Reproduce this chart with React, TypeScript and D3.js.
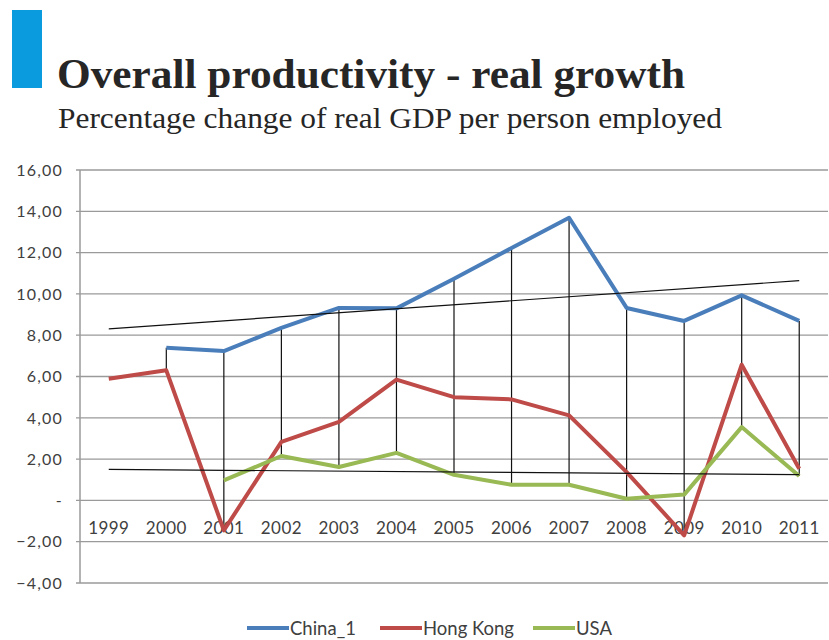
import React from 'react';
import * as d3 from 'd3';

const years = ['1999', '2000', '2001', '2002', '2003', '2004', '2005', '2006', '2007', '2008', '2009', '2010', '2011'];
const china: (number | null)[] = [null, 7.39, 7.23, 8.35, 9.32, 9.3, 10.73, 12.22, 13.69, 9.32, 8.69, 9.93, 8.69];
const hongKong: (number | null)[] = [5.89, 6.3, -1.45, 2.83, 3.8, 5.85, 5.0, 4.89, 4.12, 1.37, -1.69, 6.57, 1.53];
const usa: (number | null)[] = [null, null, 0.97, 2.15, 1.62, 2.3, 1.24, 0.76, 0.76, 0.08, 0.28, 3.55, 1.18];
const yTicks = [-4, -2, 0, 2, 4, 6, 8, 10, 12, 14, 16];

const seriesNames = ['China_1', 'Hong Kong', 'USA'];
const seriesColors = ['#4A7EBB', '#BE4B48', '#98B954'];
const seriesData = [china, hongKong, usa];

function regression(vals: (number | null)[]) {
  const pts = vals.map((v, i) => [i, v] as [number, number | null]).filter((p) => p[1] !== null) as [number, number][];
  const mx = d3.mean(pts, (p) => p[0])!;
  const my = d3.mean(pts, (p) => p[1])!;
  const sxy = d3.sum(pts, (p) => (p[0] - mx) * (p[1] - my));
  const sxx = d3.sum(pts, (p) => (p[0] - mx) * (p[0] - mx));
  const b = sxy / sxx;
  const a = my - b * mx;
  return (i: number) => a + b * i;
}

export default function App() {
  const W = 829;
  const H = 640;
  const x = d3.scaleBand<string>().domain(years).range([80, 828]);
  const cx = (yr: string) => (x(yr) as number) + x.bandwidth() / 2;
  const y = d3.scaleLinear().domain([-4, 16]).range([583, 170]);
  const fmt = (v: number) => (v === 0 ? '-' : d3.format('.2f')(v).replace('.', ','));

  const line = d3
    .line<[string, number | null]>()
    .defined((d) => d[1] !== null)
    .x((d) => cx(d[0]))
    .y((d) => y(d[1] as number));

  const hiLo = years.map((yr, i) => {
    const vals = seriesData.map((s) => s[i]).filter((v) => v !== null) as number[];
    return { yr, hi: d3.max(vals)!, lo: d3.min(vals)!, n: vals.length };
  });

  const trends = [regression(china), regression(usa)];
  const labelFont = 'Lato, "Open Sans", sans-serif';
  const legendStarts = [247, 380, 533];

  return (
    <svg width={W} height={H} style={{ position: 'absolute', left: 0, top: 0, background: '#fff' }}>
      <rect x={0} y={0} width={W} height={H} fill="#fff" />
      <rect x={12} y={10} width={30} height={78} fill="#0A9BDE" />
      <text x={57} y={88} fontFamily='"Liberation Serif", "DejaVu Serif", serif' fontWeight="bold" fontSize={42} fill="#262626" textLength={628} lengthAdjust="spacingAndGlyphs">
        Overall productivity - real growth
      </text>
      <text x={58} y={128} fontFamily='"Liberation Serif", "DejaVu Serif", serif' fontSize={29} fill="#262626" textLength={664} lengthAdjust="spacingAndGlyphs">
        Percentage change of real GDP per person employed
      </text>

      {yTicks.map((t) => (
        <g key={t}>
          <line x1={76} x2={828} y1={y(t)} y2={y(t)} stroke="#9a9a9a" strokeWidth={1.3} />
          <text x={63} y={y(t)} dy="0.36em" textAnchor="end" fontFamily={labelFont} fontSize={16} letterSpacing={1.2} fill="#404040">
            {fmt(t)}
          </text>
        </g>
      ))}
      <line x1={80} x2={80} y1={y(16)} y2={y(-4)} stroke="#9a9a9a" strokeWidth={1.5} />

      {years.map((yr) => (
        <text key={yr} x={cx(yr)} y={528} dy="0.36em" textAnchor="middle" fontFamily={labelFont} fontSize={17} letterSpacing={0.4} fill="#404040">
          {yr}
        </text>
      ))}

      {hiLo
        .filter((d) => d.n > 1)
        .map((d) => (
          <line key={d.yr} x1={cx(d.yr)} x2={cx(d.yr)} y1={y(d.hi)} y2={y(d.lo)} stroke="#111" strokeWidth={1.2} />
        ))}

      {seriesData.map((s, si) => (
        <path
          key={seriesNames[si]}
          d={line(years.map((yr, i) => [yr, s[i]] as [string, number | null])) || ''}
          fill="none"
          stroke={seriesColors[si]}
          strokeWidth={4}
          strokeLinejoin="round"
        />
      ))}

      {trends.map((f, ti) => (
        <line
          key={ti}
          x1={cx(years[0])}
          x2={cx(years[years.length - 1])}
          y1={y(f(0))}
          y2={y(f(years.length - 1))}
          stroke="#111"
          strokeWidth={1.2}
        />
      ))}

      {seriesNames.map((name, i) => {
        const sx = legendStarts[i];
        return (
          <g key={name}>
            <line x1={sx} x2={sx + 42} y1={628} y2={628} stroke={seriesColors[i]} strokeWidth={4} />
            <text x={sx + 43} y={628} dy="0.36em" fontFamily={labelFont} fontSize={18.5} fill="#404040">
              {name}
            </text>
          </g>
        );
      })}
    </svg>
  );
}
